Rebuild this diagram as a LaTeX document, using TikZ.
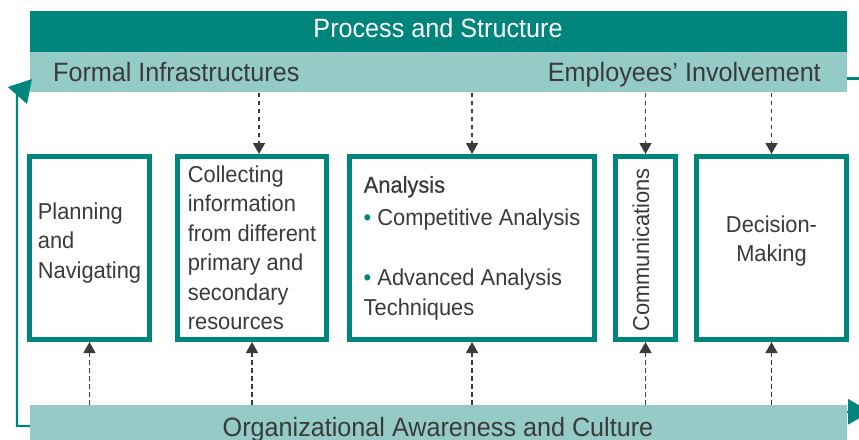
\documentclass[tikz,border=0pt]{standalone}
\usepackage{fontspec}
\setmainfont{Liberation Sans}[FakeStretch=0.95]
\newfontfamily\medfont{Liberation Sans}[FakeStretch=0.95,FakeBold=0.6]
\usepackage{tikz}
\definecolor{darkteal}{RGB}{0,133,124}
\definecolor{lightteal}{RGB}{149,203,199}
\definecolor{inkgrey}{RGB}{58,58,58}
\tikzset{
     bar/.style={fill=lightteal, minimum width=817pt, inner sep=0pt},
     headtext/.style={font=\fontsize{26.5}{30}\selectfont, text=inkgrey, inner sep=0pt},
     stage/.style={draw=darkteal, line width=5pt, minimum height=183pt, inner sep=0pt,
                   text=inkgrey, font=\fontsize{23}{29.5}\selectfont, align=left},
     flow/.style={draw=inkgrey, line width=1.3pt, dash pattern=on 4.5pt off 3.5pt,
                  -{Triangle[length=11pt,width=12pt]}},
     cyclearrow/.style={draw=darkteal, line width=2.3pt, -{Triangle[length=22pt,width=25pt]}}
     }
\usetikzlibrary{positioning,arrows.meta,calc}

\begin{document}
\begin{tikzpicture}[x=1pt,y=-1pt]
                    \useasboundingbox (0,0) rectangle (859,439);
                    % Place bars
                    \node [bar, fill=darkteal, minimum height=41pt] (proc) at (438.5,31.5) {};
                    \node [bar, minimum height=40pt, below=0pt of proc] (infra) {};
                    \node [bar, minimum height=42pt] (org) at (438.5,426) {};
                    \node [headtext, text=white, anchor=base] (proctext) at (438,37) {Process and Structure};
                    \node [headtext, anchor=base west] (formal) at (53,81) {Formal Infrastructures};
                    \node [headtext, anchor=base east] (involve) at (821,81) {Employees’ Involvement};
                    \node [headtext, anchor=base] (orgtext) at (438,436) {Organizational Awareness and Culture};
                    % Place boxes
                    \node [stage, minimum width=120pt] (plan) at (89.5,248) {};
                    \node [stage, draw=none] (plantext) at (89.5,243) {Planning\\and\\Navigating};
                    \node [stage, minimum width=149pt] (collect) at (252,248)
                          {Collecting\\information\\from different\\primary and\\secondary\\resources};
                    \node [stage, minimum width=245pt] (analysis) at (472,248)
                          {{\medfont Analysis}\\[3.5pt]
                           {\color{darkteal}\textbullet} Competitive Analysis\\[30.5pt]
                           {\color{darkteal}\textbullet} Advanced Analysis\\
                           Techniques};
                    \node [stage, minimum width=60pt] (comm) at (645.5,248) {};
                    \node [stage, draw=none, rotate=90] (commtext) at (641,250) {Communications};
                    \node [stage, minimum width=150pt] (decide) at (771.5,248) {};
                    \node [stage, draw=none, align=center] (decidetext) at (771.5,241) {Decision-\\Making};
                    \coordinate (collectin) at ($(collect.north)+(7,0)$);
                    % Draw edges
                    \draw [flow] (infra.south -| collectin) -- (collectin);
                    \foreach \stg in {analysis,comm,decide}
                        \draw [flow] (infra.south -| \stg.north) -- (\stg.north);
                    \foreach \stg in {plan,collect,analysis,comm,decide}
                        \draw [flow] (org.north -| \stg.south) -- (\stg.south);
                    \draw [cyclearrow] (org.west) -- (17,426) -- (17,96) -- (32,79);
                    \draw [cyclearrow, -] ($(infra.east)+(0,6)$) -- ++(20,0);
                    \draw [cyclearrow] ($(org.north east)+(0,7)$) -- ++(23,0);
                \end{tikzpicture}
\end{document}
